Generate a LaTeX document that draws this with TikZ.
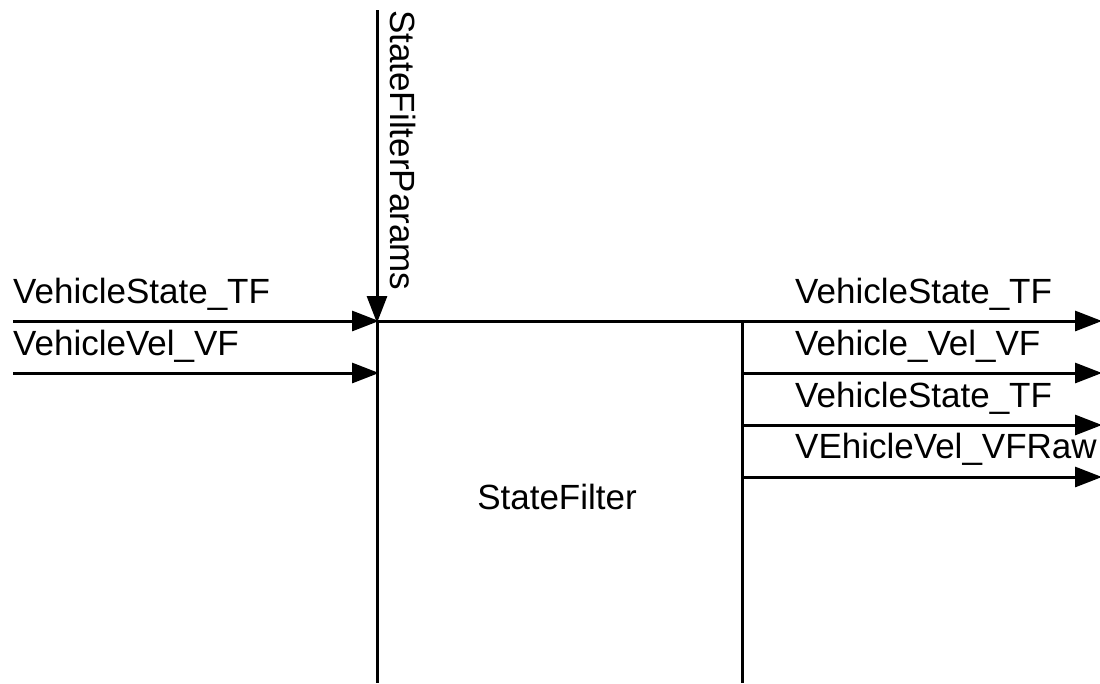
\documentclass[tikz,border=0pt]{standalone}
\usepackage{fontspec}
\setmainfont{Liberation Sans}
\usetikzlibrary{arrows.meta,positioning}

\tikzset{
  wire/.style={line width=3pt},
  sig/.style={wire, -{Triangle[length=27pt,width=20pt]}, shorten >=-2pt},
  sigtext/.style={anchor=base west, inner sep=0pt, font=\fontsize{35}{40}\selectfont},
}

\begin{document}
\begin{tikzpicture}[x=1pt,y=-1pt]
\useasboundingbox (0,0) rectangle (1100,683);

% block outline (open at the bottom)
\coordinate (blk_tl) at (377,321);
\coordinate (blk_bl) at (377,683);
\coordinate (blk_tr) at (742,321);
\coordinate (blk_br) at (742,683);
\coordinate (par_top) at (377,10);

\node[sigtext, anchor=base] (blk) at (557,509) {StateFilter};

% inputs
\coordinate (in1) at (13,321);
\coordinate (in2) at (13,373);
\coordinate (in2_end) at (377,373);
\node[sigtext] (in1_lbl) at (13,303) {VehicleState\_TF};
\node[sigtext] (in2_lbl) at (13,355) {VehicleVel\_VF};

% parameters from the top
\node[sigtext, rotate=-90] (par_lbl) at (390,10) {StateFilterParams};

% outputs
\coordinate (out1) at (1100,321);
\coordinate (out2s) at (742,373);
\coordinate (out2) at (1100,373);
\coordinate (out3s) at (742,425);
\coordinate (out3) at (1100,425);
\coordinate (out4s) at (742,477);
\coordinate (out4) at (1100,477);
\node[sigtext] (out1_lbl) at (795,303) {VehicleState\_TF};
\node[sigtext] (out2_lbl) at (795,355) {Vehicle\_Vel\_VF};
\node[sigtext] (out3_lbl) at (795,407) {VehicleState\_TF};
\node[sigtext] (out4_lbl) at (795,458) {VEhicleVel\_VFRaw};

\draw[wire] (blk_tl) -- (blk_bl);
\draw[wire] (blk_tr) -- (blk_br);
\draw[sig] (blk_tl) -- (out1);
\draw[sig] (par_top) -- (blk_tl);
\draw[sig] (in1) -- (blk_tl);
\draw[sig] (in2) -- (in2_end);
\draw[sig] (out2s) -- (out2);
\draw[sig] (out3s) -- (out3);
\draw[sig] (out4s) -- (out4);
\end{tikzpicture}
\end{document}
